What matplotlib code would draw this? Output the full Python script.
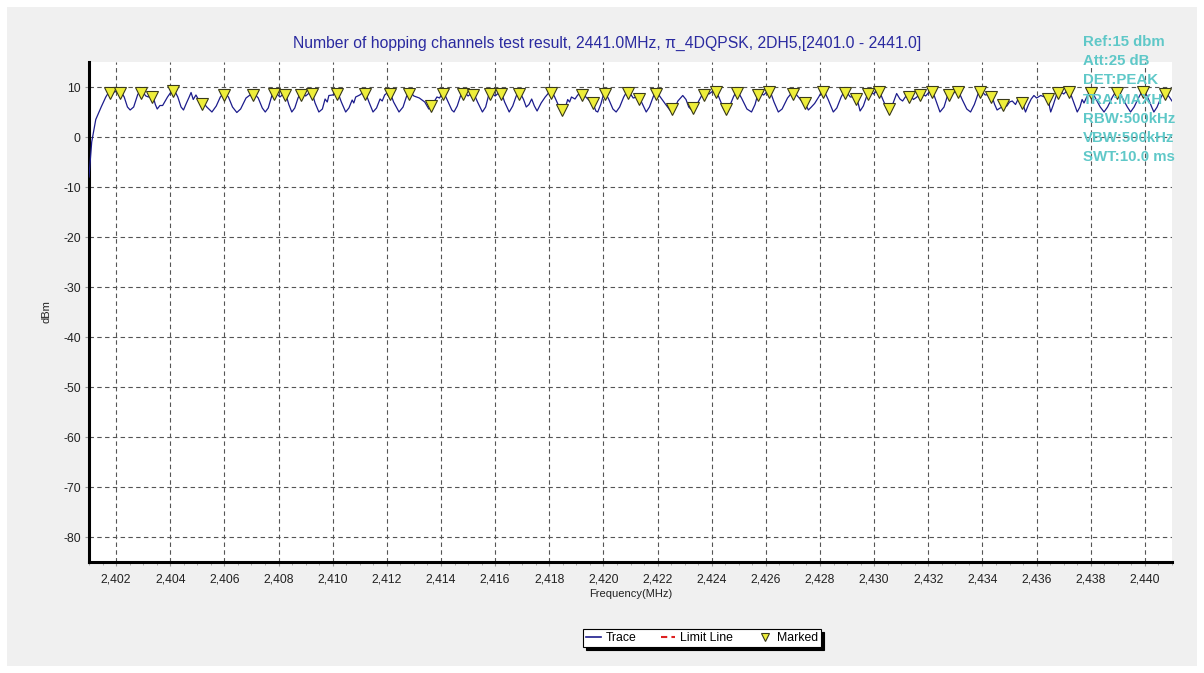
import matplotlib
matplotlib.use("Agg")
import matplotlib.pyplot as plt
from matplotlib.patches import Rectangle
from matplotlib.lines import Line2D
from matplotlib.ticker import FuncFormatter, MultipleLocator

plt.rcParams['font.family'] = ['Liberation Sans', 'DejaVu Sans']
plt.rcParams['axes.unicode_minus'] = False

# ---------------- data ----------------
title_text = "Number of hopping channels test result, 2441.0MHz, \u03c0_4DQPSK, 2DH5,[2401.0 - 2441.0]"
info_lines = ["Ref:15 dbm", "Att:25 dB", "DET:PEAK", "TRA:MAXH",
              "RBW:500kHz", "VBW:500kHz", "SWT:10.0 ms"]

trace_freq = [
    2401.00, 2401.10, 2401.25, 2401.45, 2401.62, 2401.78, 2401.95, 2402.15, 2402.30, 2402.42,
    2402.52, 2402.65, 2402.80, 2402.92, 2403.10, 2403.20, 2403.34, 2403.45, 2403.52, 2403.62,
    2403.72, 2403.90, 2404.12, 2404.28, 2404.40, 2404.49, 2404.60, 2404.70, 2404.77, 2404.85,
    2404.95, 2405.05, 2405.17, 2405.35, 2405.54, 2405.70, 2405.85, 2406.00, 2406.15, 2406.30,
    2406.46, 2406.60, 2406.80, 2407.07, 2407.25, 2407.40, 2407.51, 2407.62, 2407.75, 2407.85,
    2408.05, 2408.25, 2408.38, 2408.49, 2408.60, 2408.72, 2408.84, 2409.00, 2409.22, 2409.35,
    2409.49, 2409.62, 2409.72, 2409.80, 2409.86, 2410.00, 2410.17, 2410.32, 2410.48, 2410.60,
    2410.72, 2410.78, 2410.85, 2411.00, 2411.19, 2411.34, 2411.49, 2411.62, 2411.75, 2411.83,
    2411.92, 2412.10, 2412.25, 2412.45, 2412.60, 2412.72, 2412.82, 2413.00, 2413.20, 2413.40,
    2413.55, 2413.62, 2413.72, 2413.85, 2413.95, 2414.08, 2414.25, 2414.40, 2414.48, 2414.60,
    2414.72, 2414.83, 2415.00, 2415.19, 2415.35, 2415.53, 2415.65, 2415.80, 2416.00, 2416.21,
    2416.35, 2416.52, 2416.65, 2416.78, 2416.89, 2417.05, 2417.15, 2417.25, 2417.35, 2417.45,
    2417.55, 2417.70, 2417.85, 2418.07, 2418.20, 2418.35, 2418.48, 2418.60, 2418.68, 2418.75,
    2418.82, 2418.95, 2419.05, 2419.21, 2419.35, 2419.50, 2419.63, 2419.72, 2419.79, 2419.90,
    2420.04, 2420.20, 2420.35, 2420.47, 2420.60, 2420.75, 2420.90, 2421.10, 2421.31, 2421.45,
    2421.58, 2421.70, 2421.85, 2421.95, 2422.10, 2422.30, 2422.48, 2422.54, 2422.65, 2422.75,
    2422.85, 2422.93, 2423.05, 2423.15, 2423.30, 2423.45, 2423.60, 2423.70, 2423.90, 2424.14,
    2424.30, 2424.45, 2424.54, 2424.65, 2424.80, 2424.93, 2425.10, 2425.30, 2425.47, 2425.60,
    2425.72, 2425.92, 2426.13, 2426.30, 2426.46, 2426.60, 2426.80, 2427.01, 2427.20, 2427.35,
    2427.44, 2427.57, 2427.68, 2427.80, 2427.95, 2428.12, 2428.30, 2428.49, 2428.62, 2428.78,
    2428.92, 2429.12, 2429.33, 2429.42, 2429.48, 2429.60, 2429.79, 2429.98, 2430.16, 2430.32,
    2430.48, 2430.56, 2430.68, 2430.83, 2430.95, 2431.05, 2431.15, 2431.30, 2431.45, 2431.58,
    2431.70, 2431.90, 2432.13, 2432.30, 2432.43, 2432.58, 2432.75, 2432.90, 2433.08, 2433.25,
    2433.42, 2433.56, 2433.70, 2433.90, 2434.10, 2434.32, 2434.45, 2434.54, 2434.65, 2434.76,
    2434.90, 2435.00, 2435.10, 2435.22, 2435.30, 2435.47, 2435.55, 2435.59, 2435.70, 2435.80,
    2435.90, 2436.00, 2436.15, 2436.30, 2436.42, 2436.48, 2436.52, 2436.62, 2436.79, 2437.00,
    2437.19, 2437.35, 2437.50, 2437.60, 2437.68, 2437.75, 2437.85, 2437.99, 2438.15, 2438.35,
    2438.49, 2438.62, 2438.80, 2438.96, 2439.15, 2439.35, 2439.47, 2439.60, 2439.78, 2439.94,
    2440.10, 2440.25, 2440.33, 2440.45, 2440.60, 2440.73, 2440.90, 2441.00,
]
trace_level = [
    -8.0, -1.0, 3.5, 6.0, 8.0, 9.4, 9.0, 9.4, 8.0, 6.0,
    5.4, 6.0, 8.5, 9.4, 8.2, 8.0, 8.6, 6.5, 5.6, 6.3,
    6.3, 8.0, 9.7, 8.0, 6.0, 5.4, 6.8, 8.0, 8.9, 7.5,
    8.4, 7.4, 7.2, 6.0, 5.0, 6.2, 8.0, 8.9, 8.0, 6.0,
    4.9, 5.6, 7.8, 8.9, 7.8, 5.8, 5.0, 5.8, 8.2, 9.2,
    8.0, 8.9, 6.5, 5.0, 5.8, 7.8, 9.0, 8.2, 9.2, 6.8,
    5.0, 5.6, 7.6, 7.0, 8.3, 8.4, 9.2, 7.0, 5.0, 5.8,
    7.4, 6.8, 8.0, 8.4, 9.2, 7.0, 5.0, 5.8, 7.6, 7.2,
    8.4, 9.2, 7.0, 5.0, 6.0, 8.0, 9.2, 8.2, 7.8, 7.0,
    5.6, 5.8, 6.8, 8.0, 7.8, 9.2, 7.2, 5.4, 5.0, 6.2,
    8.2, 9.2, 8.2, 9.0, 7.0, 5.0, 6.0, 9.2, 8.2, 9.2,
    7.0, 5.0, 6.2, 8.2, 9.2, 7.5, 6.0, 6.5, 7.6, 6.2,
    5.2, 6.8, 8.0, 9.4, 8.0, 6.2, 5.0, 6.0, 7.5, 7.0,
    8.0, 7.6, 8.4, 8.9, 8.0, 7.2, 6.5, 5.2, 5.0, 6.5,
    9.2, 7.5, 5.6, 5.0, 6.0, 8.0, 9.4, 7.8, 8.1, 6.5,
    5.0, 6.0, 8.2, 9.2, 8.0, 6.5, 5.2, 5.1, 6.0, 7.2,
    7.8, 8.3, 7.5, 6.0, 5.2, 6.5, 8.0, 9.0, 8.6, 9.6,
    7.5, 5.5, 5.1, 6.0, 8.0, 9.4, 7.8, 5.6, 5.0, 6.5,
    8.9, 8.4, 9.6, 7.0, 5.0, 5.6, 7.8, 9.2, 8.0, 7.0,
    6.8, 5.4, 6.0, 6.7, 8.0, 9.6, 7.5, 5.0, 5.8, 8.0,
    9.4, 8.0, 8.1, 6.5, 5.2, 6.2, 9.2, 8.6, 9.6, 7.5,
    5.5, 5.1, 6.5, 8.7, 7.6, 7.2, 8.0, 8.6, 7.5, 8.0,
    8.9, 8.2, 9.6, 7.0, 5.0, 6.0, 9.0, 8.6, 9.6, 7.5,
    5.6, 5.0, 6.5, 9.6, 8.4, 8.6, 6.5, 5.4, 5.8, 6.0,
    6.2, 7.0, 7.2, 6.5, 7.4, 7.4, 5.6, 5.0, 6.5, 7.6,
    8.3, 7.8, 8.3, 8.0, 8.1, 6.0, 5.0, 6.5, 9.4, 8.6,
    9.6, 7.2, 5.0, 6.0, 7.5, 6.8, 8.0, 9.4, 8.0, 6.0,
    5.0, 6.0, 8.0, 9.4, 8.0, 6.0, 5.0, 6.0, 8.0, 9.6,
    8.0, 6.0, 5.0, 6.0, 8.0, 9.2, 8.0, 7.2,
]

marker_freq = [
    2401.78, 2402.15, 2402.92, 2403.34, 2404.12, 2405.17, 2406.00, 2407.07, 2407.85, 2408.25,
    2408.84, 2409.22, 2410.17, 2411.19, 2412.10, 2412.82, 2413.62, 2414.08, 2414.83, 2415.19,
    2415.80, 2416.21, 2416.89, 2418.07, 2418.48, 2419.21, 2419.63, 2420.04, 2420.90, 2421.31,
    2421.95, 2422.54, 2423.30, 2423.70, 2424.14, 2424.54, 2424.93, 2425.72, 2426.13, 2427.01,
    2427.44, 2428.12, 2428.92, 2429.33, 2429.79, 2430.16, 2430.56, 2431.30, 2431.70, 2432.13,
    2432.75, 2433.08, 2433.90, 2434.32, 2434.76, 2435.47, 2436.42, 2436.79, 2437.19, 2437.99,
    2438.96, 2439.94, 2440.73,
]
marker_level = [
    8.9, 8.9, 8.9, 8.1, 9.2, 6.7, 8.4, 8.4, 8.7, 8.4,
    8.5, 8.7, 8.7, 8.7, 8.7, 8.7, 6.3, 8.7, 8.7, 8.5,
    8.7, 8.7, 8.7, 8.9, 5.4, 8.4, 6.9, 8.7, 8.9, 7.6,
    8.7, 5.6, 5.9, 8.5, 9.1, 5.6, 8.9, 8.4, 9.1, 8.7,
    6.9, 9.1, 8.9, 7.6, 8.7, 9.1, 5.6, 8.1, 8.4, 9.1,
    8.5, 9.1, 9.1, 8.1, 6.5, 6.9, 7.6, 8.9, 9.1, 8.9,
    8.9, 9.1, 8.7,
]

x_ticks = list(range(2402, 2441, 2))
y_ticks = list(range(-80, 11, 10))

# ---------------- figure ----------------
W, H = 1204, 673
fig = plt.figure(figsize=(W / 100, H / 100), dpi=100, facecolor='white')
fig.patches.append(Rectangle((7 / W, 7 / H), (W - 14) / W, (H - 14) / H,
                             transform=fig.transFigure, facecolor='#f0f0f0',
                             edgecolor='none', zorder=-10))

ax = fig.add_axes([89 / W, 1 - 562 / H, (1172 - 89) / W, (562 - 62) / H])
ax.set_facecolor('white')
ax.set_xlim(2401, 2441)
ax.set_ylim(-85, 15)

ax.plot(trace_freq, trace_level, color='#1c1c8c', lw=0.9, zorder=3)
ax.plot(marker_freq, marker_level, linestyle='none', marker='v', markersize=9,
        markerfacecolor='#eeee3a', markeredgecolor='#3a3a1a', markeredgewidth=0.8, zorder=4)

ax.set_xticks(x_ticks)
ax.set_yticks(y_ticks)
ax.xaxis.set_minor_locator(MultipleLocator(0.5))
ax.xaxis.set_major_formatter(FuncFormatter(lambda v, p: f"{v:,.0f}"))
ax.grid(True, which='major', color='#555555', linestyle=(0, (4, 3)), linewidth=0.8)
ax.set_axisbelow(True)

for s in ['top', 'right']:
    ax.spines[s].set_visible(False)
for s in ['left', 'bottom']:
    ax.spines[s].set_linewidth(2.2)
    ax.spines[s].set_color('black')

ax.tick_params(axis='both', which='major', labelsize=8.8, colors='#999999',
               labelcolor='#222222', length=3, width=0.8)
ax.tick_params(axis='x', which='major', pad=5.5)
ax.tick_params(axis='x', which='minor', length=2.5, colors='#aaaaaa', width=0.7)
ax.tick_params(axis='y', which='major', pad=3)

ax.set_xlabel("Frequency(MHz)", fontsize=8, color='#222222', labelpad=2)
ax.set_ylabel("dBm", fontsize=8, color='#222222', labelpad=8)

fig.text(607 / W, 1 - 43 / H, title_text, ha='center', va='center',
         fontsize=11.3, color='#2a2aa0')

for i, line in enumerate(info_lines):
    fig.text(1083 / W, 1 - (42 + i * 19.2) / H, line, ha='left', va='center',
             fontsize=10.8, color='#5fc8c8', fontweight='bold', zorder=10)

handles = [
    Line2D([], [], color='#1c1c8c', lw=1.2),
    Line2D([], [], color='#dd2020', lw=1.5, linestyle=(0, (3, 2))),
    Line2D([], [], linestyle='none', marker='v', markersize=6,
           markerfacecolor='#eeee3a', markeredgecolor='#3a3a1a', markeredgewidth=0.8),
]
leg = fig.legend(handles, ["Trace", "Limit Line", "Marked"], ncol=3,
                 loc='center', bbox_to_anchor=(702 / W, 1 - 638 / H),
                 fontsize=8.8, frameon=True, fancybox=False,
                 shadow={'color': 'black', 'alpha': 1.0},
                 handlelength=1.2, handletextpad=0.4, columnspacing=2.0,
                 borderpad=0.25, borderaxespad=0)
leg.get_frame().set_edgecolor('black')
leg.get_frame().set_linewidth(0.8)
leg.get_frame().set_facecolor('white')

fig.savefig("out.png", dpi=100, facecolor='white')
